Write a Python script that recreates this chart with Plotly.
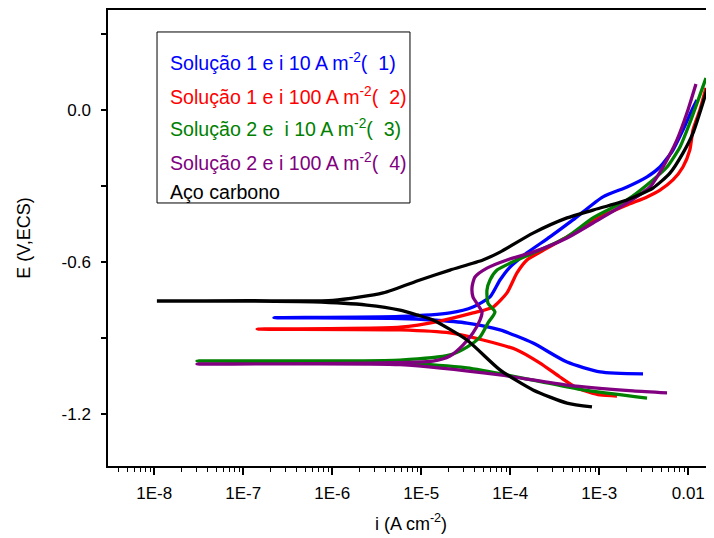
import plotly.graph_objects as go

# ---- data (current density A/cm^2, potential V vs ECS) ----
black_i = [8.28e-4, 4.34e-4, 1.80e-4, 7.66e-5, 3.26e-5, 1.35e-5, 8.95e-6, 5.77e-6, 2.45e-6, 6.07e-7, 1.19e-7, 1.07e-8,
           1.19e-7, 1.02e-6, 3.72e-6, 9.66e-6, 2.10e-5, 4.93e-5, 7.66e-5, 1.80e-4, 4.34e-4, 8.49e-4, 2.05e-3, 4.01e-3,
           6.22e-3, 8.71e-3, 1.13e-2, 1.46e-2, 1.90e-2, 2.16e-2]
black_E = [-1.172, -1.157, -1.105, -1.026, -0.908, -0.829, -0.809, -0.790, -0.770, -0.757, -0.754, -0.754,
           -0.753, -0.752, -0.722, -0.671, -0.632, -0.592, -0.561, -0.486, -0.426, -0.395, -0.355, -0.308,
           -0.249, -0.170, -0.091, 0.028, 0.158, 0.217]

blue_i = [3.10e-3, 1.02e-3, 4.34e-4, 1.80e-4, 7.66e-5, 3.26e-5, 1.35e-5, 5.77e-6, 2.21e-7, 5.77e-6, 2.10e-5, 3.81e-5,
          5.92e-5, 7.66e-5, 9.93e-5, 1.54e-4, 2.79e-4, 5.06e-4, 1.10e-3, 2.05e-3, 3.44e-3, 4.81e-3, 6.73e-3, 8.71e-3,
          1.10e-2, 1.25e-2]
blue_E = [-1.042, -1.034, -0.995, -0.920, -0.868, -0.841, -0.829, -0.823, -0.820, -0.815, -0.801, -0.778,
          -0.738, -0.671, -0.620, -0.564, -0.501, -0.434, -0.343, -0.304, -0.264, -0.225, -0.158, -0.079,
          0.000, 0.039]

red_i = [1.58e-3, 1.02e-3, 5.61e-4, 3.61e-4, 2.16e-4, 1.19e-4, 4.93e-5, 2.10e-5, 5.77e-6, 1.43e-7, 5.77e-6, 1.62e-5,
         3.81e-5, 6.40e-5, 9.18e-5, 1.19e-4, 1.54e-4, 2.16e-4, 4.34e-4, 1.02e-3, 2.05e-3, 3.44e-3, 4.81e-3, 6.73e-3,
         8.71e-3, 1.04e-2, 1.13e-2, 1.35e-2, 1.58e-2]
red_E = [-1.129, -1.125, -1.097, -1.054, -0.999, -0.947, -0.908, -0.880, -0.868, -0.865, -0.857, -0.833,
         -0.801, -0.778, -0.722, -0.643, -0.592, -0.561, -0.501, -0.422, -0.375, -0.343, -0.316, -0.276,
         -0.225, -0.158, -0.079, 0.000, 0.087]

green_i = [3.44e-3, 6.56e-4, 1.80e-4, 3.26e-5, 5.77e-6, 4.34e-7, 3.02e-8, 5.77e-6, 2.10e-5, 3.26e-5, 4.57e-5, 5.61e-5,
           6.73e-5, 5.61e-5, 5.47e-5, 5.92e-5, 7.10e-5, 1.19e-4, 2.16e-4, 4.34e-4, 8.49e-4, 2.05e-3, 4.01e-3, 5.77e-3,
           8.07e-3, 1.04e-2, 1.29e-2, 1.58e-2]
green_E = [-1.137, -1.105, -1.066, -1.018, -0.999, -0.993, -0.991, -0.987, -0.967, -0.936, -0.896, -0.841,
           -0.797, -0.762, -0.711, -0.671, -0.632, -0.592, -0.553, -0.501, -0.426, -0.355, -0.276, -0.225,
           -0.146, -0.051, 0.039, 0.126]

purple_i = [5.77e-3, 2.39e-3, 4.34e-4, 7.66e-5, 5.77e-6, 3.02e-8, 1.35e-5, 2.10e-5, 2.94e-5, 3.81e-5, 4.57e-5, 4.81e-5,
            4.34e-5, 3.81e-5, 3.72e-5, 4.01e-5, 5.47e-5, 9.18e-5, 1.80e-4, 4.34e-4, 8.49e-4, 2.05e-3, 3.72e-3, 5.20e-3,
            7.46e-3, 9.66e-3, 1.22e-2]
purple_E = [-1.117, -1.109, -1.086, -1.046, -1.005, -1.003, -0.991, -0.971, -0.928, -0.880, -0.829, -0.797,
            -0.770, -0.738, -0.699, -0.659, -0.624, -0.592, -0.561, -0.505, -0.446, -0.367, -0.304, -0.225,
            -0.118, -0.012, 0.103]

series_names = [
    "Solução 1 e i 10 A m<sup>-2</sup>(\u00a0\u00a01)",
    "Solução 1 e i 100 A m<sup>-2</sup>(\u00a0\u00a02)",
    "Solução 2 e \u00a0i 10 A m<sup>-2</sup>(\u00a0\u00a03)",
    "Solução 2 e i 100 A m<sup>-2</sup>(\u00a0\u00a04)",
    "Aço carbono",
]
series_colors = ["#0000FF", "#FF0000", "#008000", "#800080", "#000000"]
series_data = [(blue_i, blue_E), (red_i, red_E), (green_i, green_E), (purple_i, purple_E), (black_i, black_E)]

x_tickvals = [1e-8, 1e-7, 1e-6, 1e-5, 1e-4, 1e-3, 1e-2]
x_ticktext = ["1E-8", "1E-7", "1E-6", "1E-5", "1E-4", "1E-3", "0.01"]
y_tickvals = [0.0, -0.6, -1.2]
y_ticktext = ["0.0", "-0.6", "-1.2"]
y_minorvals = [0.3, -0.3, -0.9]

FONT = "Arial, Liberation Sans, sans-serif"

fig = go.Figure()
for (xi, ye), name, col in zip(series_data, series_names, series_colors):
    fig.add_trace(go.Scatter(x=xi, y=ye, mode="lines", name=name,
                             line=dict(color=col, width=3.3, shape="spline", smoothing=0.6),
                             showlegend=False))

# legend box + coloured text entries
fig.add_shape(type="rect", xref="paper", yref="paper", x0=0.0809, x1=0.4983, y0=0.5768, y1=0.9518,
              line=dict(color="black", width=1), fillcolor="rgba(0,0,0,0)")
legend_y = [0.8866, 0.8121, 0.7406, 0.6660, 0.6015]
for name, col, yy in zip(series_names, series_colors, legend_y):
    fig.add_annotation(xref="paper", yref="paper", x=0.099, y=yy, xanchor="left", yanchor="middle",
                       text=name, showarrow=False, font=dict(family=FONT, size=19.6, color=col))

# page body has an 8px offset, so the figure is sized to the visible area
fig.update_layout(
    width=706, height=530,
    margin=dict(l=100, r=0, t=2, b=72),
    paper_bgcolor="white", plot_bgcolor="white",
    font=dict(family=FONT, color="black"),
    showlegend=False,
)
fig.update_xaxes(type="log", range=[-8.52, -1.711],
                 tickvals=x_tickvals, ticktext=x_ticktext,
                 ticks="outside", ticklen=7, tickwidth=1.5, tickcolor="black",
                 minor=dict(dtick="D1", ticks="outside", ticklen=4, tickwidth=1, tickcolor="black", showgrid=False),
                 showline=True, linecolor="black", linewidth=1.5, mirror=True,
                 showgrid=False, zeroline=False, ticklabelstandoff=4,
                 tickfont=dict(size=17, family=FONT),
                 title=dict(text="i (A cm<sup>-2</sup>)", font=dict(size=18, family=FONT), standoff=15))
fig.update_yaxes(range=[-1.4053, 0.3947],
                 tickvals=y_tickvals, ticktext=y_ticktext,
                 ticks="outside", ticklen=5, tickwidth=1.5, tickcolor="black",
                 minor=dict(tickvals=y_minorvals, ticks="outside", ticklen=5, tickwidth=1.5, tickcolor="black", showgrid=False),
                 showline=True, linecolor="black", linewidth=1.5,
                 showgrid=False, zeroline=False, ticklabelstandoff=7,
                 tickfont=dict(size=17, family=FONT),
                 title=dict(text="E (V,ECS)", font=dict(size=18, family=FONT), standoff=26))

fig.write_html("out.html")
